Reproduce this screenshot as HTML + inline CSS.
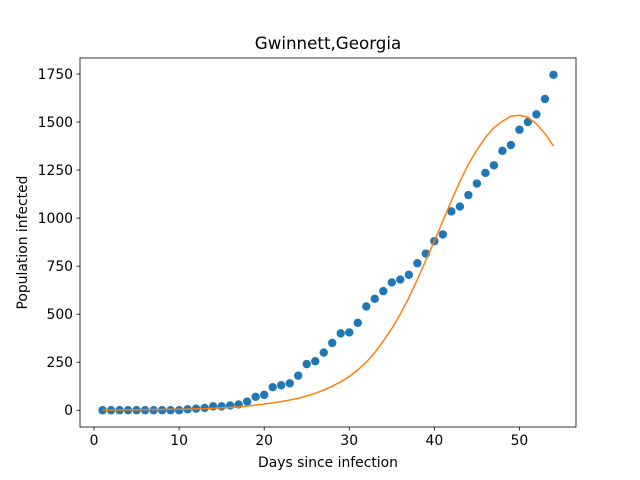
<!DOCTYPE html>
<html><head><meta charset="utf-8"><style>body{margin:0;background:#fff}svg{display:block;font-family:"DejaVu Sans","Liberation Sans",sans-serif}</style></head>
<body>
<svg id="chart" width="640" height="480"></svg>
<script>
const days = [];
for (let d = 1; d <= 54; d++) days.push(d);
const observed = [0,0,0,0,0,0,0,0,0,0,5,8,12,20,20,25,30,45,70,80,120,130,140,180,240,255,300,350,400,405,455,540,580,620,665,680,705,765,815,880,915,1035,1060,1120,1180,1235,1275,1350,1380,1460,1500,1540,1620,1746];
const fitted = [0,1,1,2,2,3,4,4,5,5,6,7,8,10,12,14,17,22,27,32,38,45,53,62,74,88,105,125,148,175,210,250,300,360,425,500,585,680,780,880,985,1090,1190,1280,1355,1420,1470,1505,1530,1535,1525,1490,1440,1375];
const xTicks = [0,10,20,30,40,50];
const yTicks = [0,250,500,750,1000,1250,1500,1750];

const L=80,R=576,T=58,B=427;
const xMin=-1.65,xMax=56.65,yMin=-87.3,yMax=1833.3;
const xs=v=>L+(v-xMin)/(xMax-xMin)*(R-L);
const ys=v=>B-(v-yMin)/(yMax-yMin)*(B-T);
const svg=document.getElementById('chart');
const NS='http://www.w3.org/2000/svg';
function mk(tag,attrs,parent){const e=document.createElementNS(NS,tag);for(const k in attrs)e.setAttribute(k,attrs[k]);(parent||svg).appendChild(e);return e;}

const g=mk('g',{});


observed.forEach((v,i)=>{
  const c=mk('circle',{cx:xs(days[i]),cy:ys(v),r:4.2,fill:'#1f77b4'},g);
  
  
});
const line=mk('polyline',{points:fitted.map((v,i)=>xs(days[i])+','+ys(v)).join(' '),fill:'none',stroke:'#ff7f0e','stroke-width':1.5});



const frame=mk('rect',{x:L,y:T,width:R-L,height:B-T,fill:'none',stroke:'#000','stroke-width':0.8});



xTicks.forEach(t=>{
  const x=xs(t);
  mk('line',{x1:x,x2:x,y1:B,y2:B+3.5,stroke:'#000','stroke-width':0.8});
  const tx=mk('text',{x:x,y:B+18,'text-anchor':'middle','font-size':13.9});
  tx.textContent=t;
  
  
});

yTicks.forEach(t=>{
  const y=ys(t);
  mk('line',{x1:L-3.5,x2:L,y1:y,y2:y,stroke:'#000','stroke-width':0.8});
  const tx=mk('text',{x:L-7,y:y+5,'text-anchor':'end','font-size':13.9});
  tx.textContent=t;
  
  
});

const title=mk('text',{x:(L+R)/2,y:49,'text-anchor':'middle','font-size':16.7});
title.textContent='Gwinnett,Georgia';


const xl=mk('text',{x:(L+R)/2,y:467,'text-anchor':'middle','font-size':13.9});
xl.textContent='Days since infection';


const yl=mk('text',{x:27,y:(T+B)/2,'text-anchor':'middle','font-size':13.9,transform:'rotate(-90 27 '+((T+B)/2)+')'});
yl.textContent='Population infected';


</script>
</body></html>
